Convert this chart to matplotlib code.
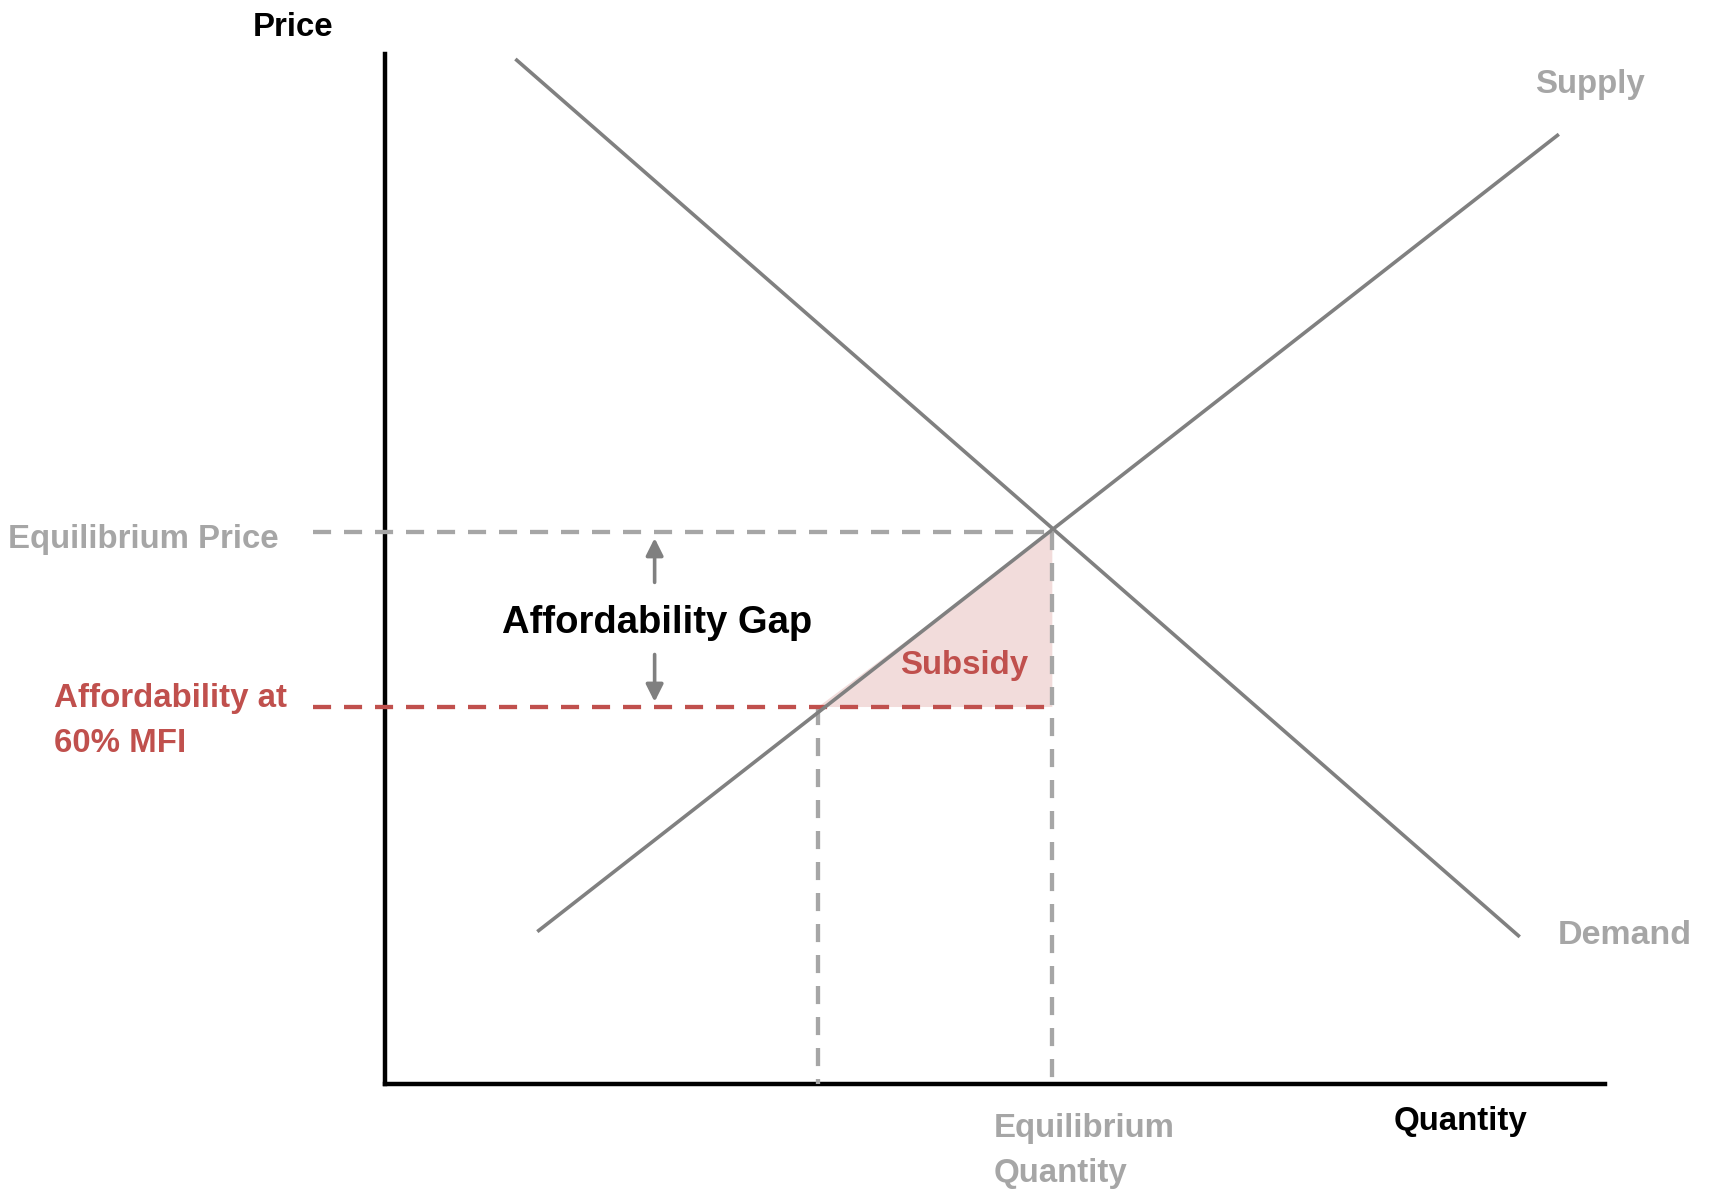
import numpy as np
import matplotlib
matplotlib.use("Agg")
from matplotlib import pyplot as plt

plt.rcParams['font.family'] = ['Liberation Sans', 'DejaVu Sans']
plt.rcParams['font.weight'] = 'bold'

# ============== DATA (price / quantity units, axes run 0..100) ===================

demand_q = [10.8, 92.9]
demand_p = [99.4, 14.4]
supply_q = [12.6, 96.1]
supply_p = [14.9, 92.1]

eq_q = 54.7
eq_p = 53.6
afford_q = 35.5
afford_p = 36.6
dash_start_q = -5.9
gap_arrow_q = 22.1
gap_arrow_up = [48.7, 53.0]
gap_arrow_down = [41.7, 37.1]

GRAY_LINE = '#808080'
GRAY_TEXT = '#A6A6A6'
RED = '#C0504D'
PINK = '#F2DCDB'

# ============== FIGURE ===================

fig = plt.figure(figsize=(17.09, 11.97), dpi=100)
ax = fig.add_axes([0, 0, 1, 1])
ax.set_xlim(-385 / 12.2, (1709 - 385) / 12.2)
ax.set_ylim((1084 - 1197) / 10.3, 1084 / 10.3)
ax.axis('off')

# axes
ax.plot([0, 0], [0, 100], color='black', lw=3.2, solid_capstyle='projecting')
ax.plot([0, 100], [0, 0], color='black', lw=3.2, solid_capstyle='projecting')

# subsidy area
ax.fill([afford_q, eq_q, eq_q], [afford_p, eq_p, afford_p], color=PINK, lw=0, zorder=1)

# supply and demand
ax.plot(demand_q, demand_p, color=GRAY_LINE, lw=2.6, zorder=3)
ax.plot(supply_q, supply_p, color=GRAY_LINE, lw=2.6, zorder=3)

# dashed guides
dash = (0, (4.2, 3.0))
ax.plot([dash_start_q, eq_q], [eq_p, eq_p], color=GRAY_TEXT, lw=3.1, linestyle=dash, zorder=2)
ax.plot([eq_q, eq_q], [eq_p, 0], color=GRAY_TEXT, lw=3.1, linestyle=dash, zorder=2)
ax.plot([afford_q, afford_q], [afford_p, 0], color=GRAY_TEXT, lw=3.1, linestyle=dash, zorder=2)
ax.plot([dash_start_q, eq_q], [afford_p, afford_p], color=RED, lw=3.1, linestyle=dash, zorder=2.5)

# affordability gap arrows
for y0, y1 in [gap_arrow_up, gap_arrow_down]:
    ax.annotate('', xy=(gap_arrow_q, y1), xytext=(gap_arrow_q, y0),
                arrowprops=dict(arrowstyle='-|>', color=GRAY_LINE, lw=2.6,
                                mutation_scale=26, shrinkA=0, shrinkB=0))

# ============== LABELS ===================

fs = 23.8
ax.text(-10.8, 101.7, 'Price', fontsize=fs, color='black', va='baseline')
ax.text(82.7, -4.5, 'Quantity', fontsize=fs, color='black', va='baseline')
ax.text(94.3, 96.2, 'Supply', fontsize=fs, color=GRAY_TEXT, va='baseline')
ax.text(96.1, 13.6, 'Demand', fontsize=24.5, color=GRAY_TEXT, va='baseline')
ax.text(-30.9, 52.0, 'Equilibrium Price', fontsize=fs, color=GRAY_TEXT, va='baseline')
ax.text(-27.1, 36.6, 'Affordability at', fontsize=fs, color=RED, va='baseline')
ax.text(-27.1, 32.2, '60% MFI', fontsize=fs, color=RED, va='baseline')
ax.text(22.3, 43.8, 'Affordability Gap', fontsize=27.5, color='black', va='baseline', ha='center')
ax.text(47.5, 39.8, 'Subsidy', fontsize=fs, color=RED, va='baseline', ha='center')
ax.text(49.9, -5.1, 'Equilibrium', fontsize=fs, color=GRAY_TEXT, va='baseline')
ax.text(49.9, -9.5, 'Quantity', fontsize=fs, color=GRAY_TEXT, va='baseline')

fig.savefig('out.png', dpi=100)
